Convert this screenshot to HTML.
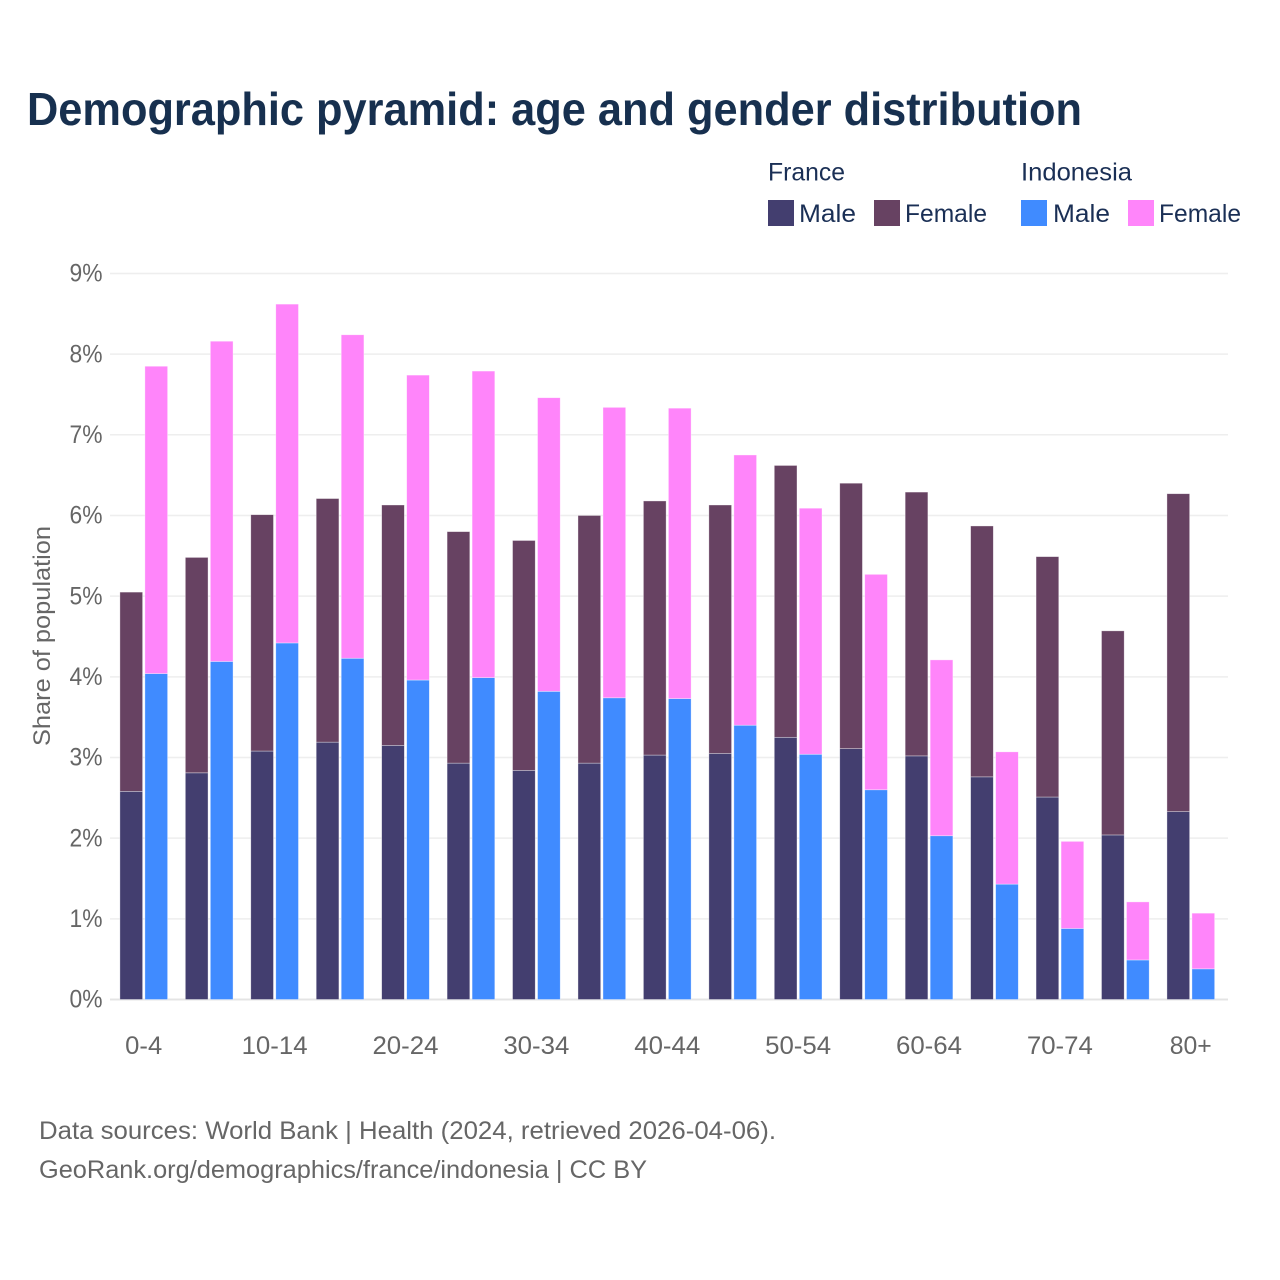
<!DOCTYPE html>
<html lang="en">
<head>
<meta charset="utf-8">
<title>Demographic pyramid: age and gender distribution</title>
<style>
html,body{margin:0;padding:0;background:#fff;width:1280px;height:1280px;overflow:hidden}
svg{display:block}
text{font-family:"Liberation Sans",sans-serif}
</style>
</head>
<body>
<svg id="chart" width="1280" height="1280" viewBox="0 0 1280 1280" xmlns="http://www.w3.org/2000/svg">
  <rect width="1280" height="1280" fill="#ffffff"/>
  <text x="27" y="125" font-size="46" font-weight="700" fill="#17304f" textLength="1055" lengthAdjust="spacingAndGlyphs">Demographic pyramid: age and gender distribution</text>

  <g font-size="25" fill="#1a2f55">
    <text x="768" y="180.5" textLength="77" lengthAdjust="spacingAndGlyphs">France</text>
    <text x="1021" y="180.5" textLength="111" lengthAdjust="spacingAndGlyphs">Indonesia</text>
    <rect x="768" y="200" width="26" height="26" fill="#433e6f"/>
    <text x="799" y="222" textLength="57" lengthAdjust="spacingAndGlyphs">Male</text>
    <rect x="874" y="200" width="26" height="26" fill="#674262"/>
    <text x="905" y="222" textLength="82" lengthAdjust="spacingAndGlyphs">Female</text>
    <rect x="1021" y="200" width="26" height="26" fill="#408bff"/>
    <text x="1053" y="222" textLength="57" lengthAdjust="spacingAndGlyphs">Male</text>
    <rect x="1128" y="200" width="26" height="26" fill="#ff85fa"/>
    <text x="1159" y="222" textLength="82" lengthAdjust="spacingAndGlyphs">Female</text>
  </g>

  <g id="grid"></g>
  <g id="yticks"></g>
  <g id="bars"></g>
  <g id="xticks"></g>

  <text transform="translate(50,636) rotate(-90)" text-anchor="middle" font-size="24" fill="#666666" textLength="220" lengthAdjust="spacingAndGlyphs">Share of population</text>

  <text x="39" y="1139" font-size="25" fill="#666666" textLength="737" lengthAdjust="spacingAndGlyphs">Data sources: World Bank | Health (2024, retrieved 2026-04-06).</text>
  <text x="39" y="1178" font-size="25" fill="#666666" textLength="608" lengthAdjust="spacingAndGlyphs">GeoRank.org/demographics/france/indonesia | CC BY</text>
</svg>
<script>
const categories = ["0-4","5-9","10-14","15-19","20-24","25-29","30-34","35-39","40-44","45-49","50-54","55-59","60-64","65-69","70-74","75-79","80+"];
const xTickLabels = ["0-4","","10-14","","20-24","","30-34","","40-44","","50-54","","60-64","","70-74","","80+"];
const yTickValues = [0,1,2,3,4,5,6,7,8,9];
const franceMale = [2.58,2.81,3.08,3.19,3.15,2.93,2.84,2.93,3.03,3.05,3.25,3.11,3.02,2.76,2.51,2.04,2.33];
const franceFemale = [2.47,2.67,2.93,3.02,2.98,2.87,2.85,3.07,3.15,3.08,3.37,3.29,3.27,3.11,2.98,2.53,3.94];
const indonesiaMale = [4.04,4.19,4.42,4.23,3.96,3.99,3.82,3.74,3.73,3.40,3.04,2.60,2.03,1.43,0.88,0.49,0.38];
const indonesiaFemale = [3.81,3.97,4.20,4.01,3.78,3.80,3.64,3.60,3.60,3.35,3.05,2.67,2.18,1.64,1.08,0.72,0.69];

const SVG_NS = "http://www.w3.org/2000/svg";
const COLORS = {frMale:"#433e6f", frFemale:"#674262", idMale:"#408bff", idFemale:"#ff85fa"};
function yScale(v){ return 999.5 - v * 80.67; }
function groupLeft(i){ return 119.9 + i * 65.44; }
const BAR_W = 22.7;
const BAR_OFFSET = 25;

function makeEl(tag, attrs){
  const el = document.createElementNS(SVG_NS, tag);
  for (const k in attrs) el.setAttribute(k, attrs[k]);
  return el;
}

const gridG = document.getElementById("grid");
const yG = document.getElementById("yticks");
yTickValues.forEach(function(v){
  const line = makeEl("line", {x1:110, x2:1228, y1:yScale(v), y2:yScale(v), stroke: v === 0 ? "#e4e4e4" : "#eeeeee", "stroke-width": v === 0 ? 2 : 1.5});
  
  
  gridG.appendChild(line);
  const t = makeEl("text", {x:102.5, y:yScale(v)+8.2, "text-anchor":"end", "font-size":25, fill:"#666666", textLength:33, lengthAdjust:"spacingAndGlyphs"});
  
  
  t.textContent = v + "%";
  yG.appendChild(t);
});

const barsG = document.getElementById("bars");
function drawBar(x, base, value, color, name){
  const rect = makeEl("rect", {x:x, y:yScale(base+value), width:BAR_W, height:yScale(base)-yScale(base+value), fill:color, stroke:"#ffffff", "stroke-opacity":0.5, "stroke-width":0.7});
  
  
  barsG.appendChild(rect);
}
categories.forEach(function(cat, i){
  const x0 = groupLeft(i);
  drawBar(x0, 0, franceMale[i], COLORS.frMale, "bar-france-male");
  drawBar(x0, franceMale[i], franceFemale[i], COLORS.frFemale, "bar-france-female");
  drawBar(x0+BAR_OFFSET, 0, indonesiaMale[i], COLORS.idMale, "bar-indonesia-male");
  drawBar(x0+BAR_OFFSET, indonesiaMale[i], indonesiaFemale[i], COLORS.idFemale, "bar-indonesia-female");
});

const xG = document.getElementById("xticks");
xTickLabels.forEach(function(label, i){
  if (!label) return;
  const w = label.length === 5 ? 66 : (label === "80+" ? 42 : 37);
  const t = makeEl("text", {x:groupLeft(i)+23.8, y:1054, "text-anchor":"middle", "font-size":25, fill:"#666666", textLength:w, lengthAdjust:"spacingAndGlyphs"});
  
  
  t.textContent = label;
  xG.appendChild(t);
});
</script>
</body>
</html>
